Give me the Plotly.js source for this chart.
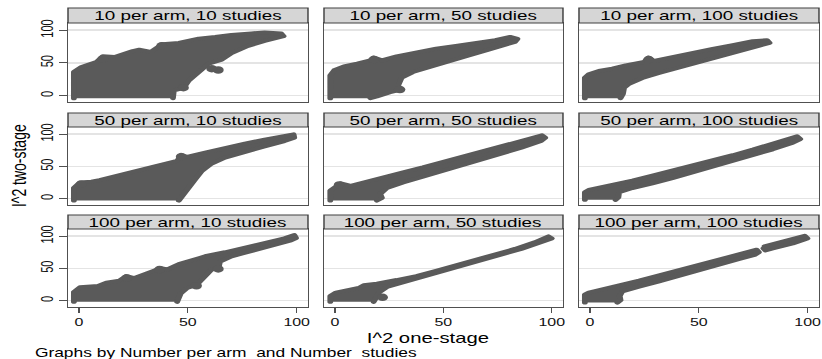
<!DOCTYPE html>
<html><head><meta charset="utf-8">
<script src="https://cdn.plot.ly/plotly-3.0.1.min.js"></script>
<style>
html,body{margin:0;padding:0;background:#fff;overflow:hidden;}
#wrap{width:822px;height:359px;overflow:hidden;}
#chart{width:590px;height:359px;transform:scaleX(1.4497);transform-origin:0 0;}
#chart .scatterlayer .js-line{stroke-linejoin:round !important;stroke-linecap:round !important;}
</style></head><body><div id="wrap"><div id="chart"></div></div>
<script>
// Panel titles (Number per arm, Number studies)
const panelTitles = ["10 per arm, 10 studies","10 per arm, 50 studies","10 per arm, 100 studies",
  "50 per arm, 10 studies","50 per arm, 50 studies","50 per arm, 100 studies",
  "100 per arm, 10 studies","100 per arm, 50 studies","100 per arm, 100 studies"];
const tickVals = [0, 50, 100];
const tickText = ["0", "50", "100"];

// Outline of each dense point cloud (I^2 one-stage, I^2 two-stage)
const p1x = [-2.3,-2.3,1.2,8,11,16.4,24.7,27.7,33,38.3,45.9,55,62.6,70,79.2,85.3,92.9,94,85.3,77.7,70.1,65.6,59.5,55,50.5,48.2,43.6,43.2];
const p1y = [-4.1,35.9,43.6,51,60,59,68,70,66.7,78.5,80.5,87,89.7,92.8,95,96.4,95,90.8,83.6,75.9,65,54.9,48.7,35.9,23,11.8,7.7,-4.1];
const p2x = [-2.1,-2.1,-0.3,4.2,10.3,16.4,17.9,21.7,28.5,37.6,46.7,55.8,64.9,74,80.8,84.2,83,77,70.9,61.8,52.7,43.6,36,30.8,29.2,30,25.5,19.4,16.4];
const p2y = [-4.1,30.8,38.5,44.6,48.7,53.8,58,53.8,60,66.7,71.8,75.9,80.5,84.6,89.7,86.7,82,76.9,70.3,61.5,52.8,43.6,35.9,27.2,15.4,8.7,5.1,-1.5,-4.1];
const p3x = [-2.3,-2.3,-0.5,4.1,10.3,16.5,24.9,26.9,29.5,37.9,47.1,56.4,65.6,74.8,81.3,82.5,77.9,68.7,59.4,50.2,41,31.8,24.1,18,15.7,15.2,14.1];
const p3y = [-4.1,27.2,32.3,37.4,41,46.2,51.3,58,52.8,59,65.1,71.3,76.9,83,84.6,80.5,76.4,68.2,60,50.8,42.6,34.4,26.7,18,11.8,2.6,-4.1];
const p4x = [-2.3,-2.3,0.5,5.8,9.5,15.6,21.7,27.7,33.8,39.9,45.1,47.1,49.7,58,67.1,76.2,85.3,94.4,98.6,98.9,94.4,85.3,76.2,67.1,61,56.5,53.5,50.5,47.4,45.9];
const p4y = [-3.1,16.4,25.1,26.2,28.7,33.8,39,44.1,48.2,53.3,58.5,67.7,64.6,71.3,78.9,85.1,91.3,98,99.5,94.4,89.2,81,72.8,63.6,54.4,43.1,30.3,17.4,3.1,-3.1];
const p5x = [-2.1,-2.1,0.5,2.7,7.3,13.3,22.4,31.5,40.6,49.7,58.8,67.9,77,86,95.5,97,95.1,86,77,67.9,58.8,49.7,40.6,31.5,24,20.9,21.7,19.4];
const p5y = [-3.1,12.3,18.5,23.6,19.5,25.1,32.8,40.5,48.2,56.4,64.6,71.8,80,88.2,98,94.4,89.2,78.9,69.7,61,52.3,43.1,33.8,25.1,16.4,7.2,1.1,-3.1];
const p6x = [-2.3,-2.3,-0.5,4.1,10.3,19.5,28.7,37.9,47.1,56.4,65.6,74.8,84,95.1,96.6,93.2,84,74.8,65.6,56.4,47.1,37.9,28.7,19.5,13.4,13.1,11.8];
const p6y = [-2,9.7,13.3,16.4,20,27.7,35.4,43.1,50.8,58.5,67.2,75.9,85.1,96.4,92.3,86.7,76.4,67.2,58.5,49.2,40.5,31.8,23.6,16.4,9.7,2,-2];
const p7x = [-2.3,-2.3,0.5,4.2,8.8,12.6,18.6,21.7,25.5,30.8,37.6,40.6,45.9,55,58,67.1,76.2,85.3,94.4,98.9,99.7,97.4,88.3,79.2,70.1,64.8,64.1,61,58,55,54.2,49.7,46.7,45.1];
const p7y = [-2,13.3,20.5,22,22.6,27.7,30.8,38,34.9,41.5,50.3,48.2,56.4,65.6,68.7,74.9,82,89.2,96.4,101.5,96.9,93.3,85.1,77.4,68.7,60.5,50.3,48.2,38,28.7,24.6,19.5,10.8,-2];
const p8x = [-2.1,-2.1,0.5,5.8,11,13.3,19.4,28.5,37.6,46.7,55.8,64.9,74,83,92.1,98.5,100,95.1,86,77,67.9,58.8,49.7,40.6,31.5,24,20.6,19.1,17.9];
const p8y = [-2,7.2,12.3,15.9,19.5,23.6,26.2,31.8,38,46.2,54.4,62.6,71.3,80,90.3,99.5,96.4,90.3,80,71.8,63.1,55.4,46.6,38,28.7,21,13.3,3.1,-2];
const p9x = [-2.3,-2.3,-0.5,4.1,13.4,22.6,31.8,41,50.2,59.4,68.7,76.6,77.6,75.6,68.7,59.4,50.2,41,31.8,22.6,14.9,13.7,14.1,12.6,null,
             80.2,90.2,98.6,99.9,93.2,84,80.6,79.7];
const p9y = [-3.1,9.2,12.3,15.9,22.6,30.8,39,47.2,55.4,63.6,72.3,78.9,74.9,70.8,64.6,55.4,46.6,38,29.7,21.5,14.3,7.2,0.5,-3.1,null,
             84.1,92.8,100.5,96.4,88.7,81,77.9,81];

// Isolated points sticking out of each cloud
const b1x = [11, 38, 64, 61, 48], b1y = [56, 76, 39, 41, 12];
const b2x = [18, 30], b2y = [55, 9];
const b3x = [27], b3y = [55];
const b4x = [47, 1], b4y = [65, 22];
const b5x = [2], b5y = [21];
const b6x = [], b6y = [];
const b7x = [22, 37, 64, 54], b7y = [35, 48, 49, 23];
const b8x = [22], b8y = [5];
const b9x = [], b9y = [];

const outlinesX = [p1x,p2x,p3x,p4x,p5x,p6x,p7x,p8x,p9x];
const outlinesY = [p1y,p2y,p3y,p4y,p5y,p6y,p7y,p8y,p9y];
const bumpsX = [b1x,b2x,b3x,b4x,b5x,b6x,b7x,b8x,b9x];
const bumpsY = [b1y,b2y,b3y,b4y,b5y,b6y,b7y,b8y,b9y];

const S = 822 / 567;          // horizontal stretch of the original picture
const LW = 590, H = 359;      // layout size before the stretch
const fx = px => px / S / LW; // screen x pixel -> paper fraction
const colPx = [[68,308],[324,563],[579,819]];
const rowPx = [[23,102],[127,205],[229,307]];
const stripPx = [[8,23],[113,127],[215,229]];
const FONT = "Liberation Sans, Arial, sans-serif";
const DOT = "#5a5a5a";

const traces = [];
const layout = {
  width: LW, height: H,
  margin: {l:0, r:0, t:0, b:0},
  paper_bgcolor: "#fff", plot_bgcolor: "#fff",
  showlegend: false,
  font: {family: FONT, color: "#111"},
  shapes: [], annotations: []
};

for (let i = 0; i < 9; i++) {
  const r = Math.floor(i / 3), c = i % 3;
  const xa = i === 0 ? "x" : "x" + (i + 1);
  const ya = i === 0 ? "y" : "y" + (i + 1);
  traces.push({x: outlinesX[i], y: outlinesY[i], xaxis: xa, yaxis: ya, type: "scatter",
    mode: "lines", fill: "toself", fillcolor: DOT, line: {color: DOT, width: 4},
    hoverinfo: "skip"});
  traces.push({x: bumpsX[i], y: bumpsY[i], xaxis: xa, yaxis: ya, type: "scatter",
    mode: "markers", marker: {color: DOT, size: 7.5}, hoverinfo: "skip"});
  const xd = [fx(colPx[c][0]), fx(colPx[c][1])];
  const yd = [1 - rowPx[r][1] / H, 1 - rowPx[r][0] / H];
  const xKey = i === 0 ? "xaxis" : "xaxis" + (i + 1);
  const yKey = i === 0 ? "yaxis" : "yaxis" + (i + 1);
  layout[xKey] = {domain: xd, anchor: ya, range: [-5, 105.2], showgrid: false, zeroline: false,
    showline: true, mirror: true, linecolor: "#505050", linewidth: 1,
    tickvals: tickVals, ticktext: tickText, ticklabeloverflow: "allow",
    ticks: r === 2 ? "outside" : "", ticklen: 5, tickcolor: "#505050",
    showticklabels: r === 2, tickfont: {family: FONT, size: 11, color: "#111"}};
  layout[yKey] = {domain: yd, anchor: xa, range: [-10, 111], showgrid: true, gridcolor: "#e4e4e4",
    gridwidth: 1.5, zeroline: false, showline: true, mirror: true, linecolor: "#505050", linewidth: 1,
    tickvals: tickVals, ticktext: tickText,
    ticks: c === 0 ? "outside" : "", ticklen: 5, tickcolor: "#505050",
    showticklabels: c === 0, tickangle: -90, tickfont: {family: FONT, size: 11, color: "#111"}};
  layout.shapes.push({type: "rect", xref: "paper", yref: "paper",
    x0: xd[0], x1: xd[1], y0: 1 - stripPx[r][1] / H, y1: 1 - stripPx[r][0] / H,
    fillcolor: "#d6d6d6", line: {color: "#404040", width: 1}});
  layout.annotations.push({xref: "paper", yref: "paper", x: (xd[0] + xd[1]) / 2,
    y: 1 - (stripPx[r][0] + stripPx[r][1]) / 2 / H, text: panelTitles[i], showarrow: false,
    xanchor: "center", yanchor: "middle", font: {family: FONT, size: 13, color: "#000"}});
}
layout.annotations.push({xref: "paper", yref: "paper", x: fx(19), y: 1 - 166 / H,
  text: "I^2 two-stage", textangle: -90, showarrow: false, xanchor: "center", yanchor: "middle",
  font: {family: FONT, size: 14, color: "#000"}});
layout.annotations.push({xref: "paper", yref: "paper", x: fx(428), y: 1 - 338 / H,
  text: "I^2 one-stage", showarrow: false, xanchor: "center", yanchor: "middle",
  font: {family: FONT, size: 14, color: "#000"}});
layout.annotations.push({xref: "paper", yref: "paper", x: fx(32), y: 1 - 353 / H,
  text: "Graphs by Number per arm  and Number  studies", showarrow: false, xanchor: "left", yanchor: "middle",
  font: {family: FONT, size: 12, color: "#000"}});

Plotly.newPlot("chart", traces, layout, {staticPlot: true, displayModeBar: false});
</script></body></html>
